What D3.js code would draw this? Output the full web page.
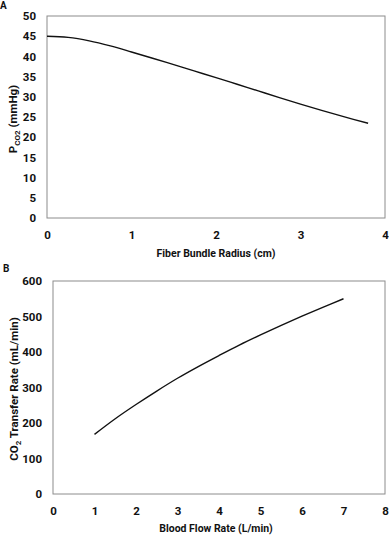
<!DOCTYPE html>
<html>
<head>
<meta charset="utf-8">
<script src="https://cdn.jsdelivr.net/npm/d3@7"></script>
<style>
  body { margin: 0; background: #fff; }
  svg { display: block; font-family: Roboto, "Liberation Sans", sans-serif; font-weight: bold; }
</style>
</head>
<body>
<div id="chart"></div>
<script>
// panel A: PCO2 vs fiber bundle radius
const radius = [0, 0.25, 0.5, 0.75, 1, 1.25, 1.5, 1.75, 2, 2.25, 2.5, 2.75, 3, 3.25, 3.5, 3.8];
const pco2 = [45, 44.7, 43.85, 42.6, 41.1, 39.55, 37.95, 36.35, 34.75, 33.1, 31.45, 29.8, 28.2, 26.65, 25.15, 23.45];
const xTicksA = [0, 1, 2, 3, 4];
const yTicksA = [0, 5, 10, 15, 20, 25, 30, 35, 40, 45, 50];

// panel B: CO2 transfer vs blood flow
const flow = [1, 1.5, 2, 2.5, 3, 3.5, 4, 4.5, 5, 5.5, 6, 6.5, 7];
const transfer = [168, 212, 252, 290, 326, 359, 390, 420, 448, 475, 501, 526, 550];
const xTicksB = [0, 1, 2, 3, 4, 5, 6, 7, 8];
const yTicksB = [0, 100, 200, 300, 400, 500, 600];

const width = 389, height = 535;
const font = "Roboto, 'Liberation Sans', sans-serif";
const svg = d3.select("#chart").append("svg")
    .attr("width", width).attr("height", height);

function panel(opts) {
    const x = d3.scaleLinear().domain(opts.xDomain).range([opts.left, opts.right]);
    const y = d3.scaleLinear().domain(opts.yDomain).range([opts.bottom, opts.top]);
    const g = svg.append("g");

    // box
    g.append("rect")
        .attr("x", opts.left).attr("y", opts.top)
        .attr("width", opts.right - opts.left).attr("height", opts.bottom - opts.top)
        .attr("fill", "none").attr("stroke", "#8c8c8c").attr("stroke-width", 1);

    const yAxis = d3.axisLeft(y).tickValues(opts.yTicks).tickSize(0).tickPadding(opts.yPad)
        .tickFormat(d3.format("d"));
    g.append("g").attr("transform", `translate(${opts.left},0)`).call(yAxis)
        .call(a => a.select(".domain").remove())
        .selectAll("text").attr("font-size", 11.5).attr("font-weight", "bold")
        .attr("font-family", font).attr("fill", "#111");

    const xAxis = d3.axisBottom(x).tickValues(opts.xTicks).tickSize(0).tickPadding(13)
        .tickFormat(d3.format("d"));
    g.append("g").attr("transform", `translate(0,${opts.bottom})`).call(xAxis)
        .call(a => a.select(".domain").remove())
        .selectAll("text").attr("font-size", 11.5).attr("font-weight", "bold")
        .attr("font-family", font).attr("fill", "#111");

    const line = d3.line().x(d => x(d[0])).y(d => y(d[1])).curve(d3.curveCatmullRom);
    g.append("path")
        .datum(opts.xs.map((v, i) => [v, opts.ys[i]]))
        .attr("d", line)
        .attr("fill", "none").attr("stroke", "#111").attr("stroke-width", 1.4);

    g.append("text")
        .attr("x", opts.xTitleX).attr("y", opts.xTitleY)
        .attr("text-anchor", "middle").attr("font-size", 10.5).attr("fill", "#111")
        .text(opts.xTitle);

    const yt = g.append("text")
        .attr("transform", `translate(${opts.yTitleX},${opts.yTitleY}) rotate(-90)`)
        .attr("text-anchor", "middle").attr("font-size", 11.5).attr("fill", "#111");
    opts.yTitle(yt);

    g.append("text").attr("x", opts.labelX).attr("y", opts.labelY)
        .attr("font-size", 10).attr("fill", "#111").text(opts.label);
}

panel({
    xDomain: [0, 4], yDomain: [0, 50],
    left: 47, right: 385, top: 16, bottom: 218,
    xTicks: xTicksA, yTicks: yTicksA, yPad: 11,
    xs: radius, ys: pco2,
    xTitle: "Fiber Bundle Radius (cm)", xTitleX: 216, xTitleY: 257,
    yTitleX: 17, yTitleY: 119,
    yTitle: t => {
        t.append("tspan").text("P");
        t.append("tspan").attr("font-size", 8).attr("dy", 3).text("CO2");
        t.append("tspan").attr("dy", -3).text(" (mmHg)");
    },
    label: "A", labelX: 0, labelY: 9
});

panel({
    xDomain: [0, 8], yDomain: [0, 600],
    left: 53, right: 385, top: 281, bottom: 494,
    xTicks: xTicksB, yTicks: yTicksB, yPad: 11,
    xs: flow, ys: transfer,
    xTitle: "Blood Flow Rate (L/min)", xTitleX: 216, xTitleY: 532,
    yTitleX: 18, yTitleY: 389,
    yTitle: t => {
        t.append("tspan").text("CO");
        t.append("tspan").attr("font-size", 8).attr("dy", 3).text("2");
        t.append("tspan").attr("dy", -3).text(" Transfer Rate (mL/min)");
    },
    label: "B", labelX: 3, labelY: 272
});
</script>
</body>
</html>
